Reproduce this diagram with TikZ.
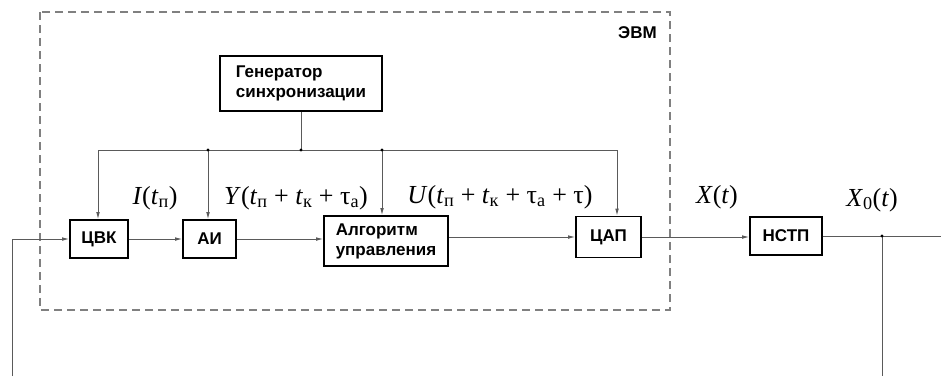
\documentclass[tikz,border=0pt]{standalone}
\usepackage{fontspec}
\setmainfont{Liberation Serif}
\newfontfamily\boxfont{Liberation Sans}
\usetikzlibrary{arrows.meta}
\definecolor{wire}{HTML}{5A5A5A}
\definecolor{dashc}{HTML}{808080}
\tikzset{
  blk/.style={draw=black, line width=1.6pt, fill=white, inner sep=0pt,
    font=\boxfont\bfseries\fontsize{17}{20}\selectfont, align=left},
  conn/.style={draw=wire, line width=0.9pt},
  arr/.style={conn, -{Latex[length=7pt,width=3.6pt]}},
  dot/.style={circle, fill=black, inner sep=0pt, minimum size=3.2pt},
  sig/.style={font=\fontsize{26}{30}\selectfont, inner sep=0pt},
}
\begin{document}
\begin{tikzpicture}[x=1pt,y=-1pt]
\useasboundingbox (0,0) rectangle (941,376);
% dashed computer boundary
\draw[dashc, line width=1.4pt, dash pattern=on 8pt off 5pt] (40,12) rectangle (670,310);
\node[font=\boxfont\bfseries\fontsize{17}{20}\selectfont, inner sep=0pt] (evm) at (637.5,33) {ЭВМ};

% blocks
\node[blk, minimum width=162pt, minimum height=55pt] (gen) at (301,83.5) {Генератор\\синхронизации};
\node[blk, minimum width=58pt, minimum height=38pt] (cvk) at (99,239) {ЦВК};
\node[blk, minimum width=53pt, minimum height=38pt] (ai) at (209.5,239) {АИ};
\node[blk, minimum width=124pt, minimum height=50pt] (alg) at (386,241) {Алгоритм\\управления};
\node[blk, minimum width=65pt, minimum height=41pt] (cap) at (608.5,237) {ЦАП};
\node[blk, minimum width=72pt, minimum height=38pt] (nstp) at (786,236) {НСТП};

% clock bus
\coordinate (busL) at (98,150);
\coordinate (j1) at (208,150);
\coordinate (j2) at (301,150);
\coordinate (j3) at (382,150);
\coordinate (busR) at (617,150);
\draw[conn] (gen.south) -- (j2);
\draw[conn] (busL) -- (busR);
\draw[arr] (busL) -- (busL |- cvk.north);
\draw[arr] (j1) -- (j1 |- ai.north);
\draw[arr] (j3) -- (j3 |- alg.north);
\draw[arr] (busR) -- (busR |- cap.north);
\node[dot] (d1) at (j1) {};
\node[dot] (d2) at (j2) {};
\node[dot] (d3) at (j3) {};

% signal chain
\coordinate (sL) at (12,239);
\coordinate (fbL) at (12,376);
\draw[arr] (fbL) -- (sL) -- (cvk.west);
\draw[arr] (cvk.east) -- (ai.west);
\draw[arr] (ai.east) -- (ai.east -| alg.west);
\draw[arr] (cap.west -| alg.east) -- (cap.west);
\draw[arr] (cap.east) -- (cap.east -| nstp.west);
\coordinate (jn) at (882,236);
\coordinate (out) at (941,236);
\coordinate (fbR) at (882,376);
\draw[conn] (nstp.east) -- (out);
\draw[conn] (jn) -- (fbR);
\node[dot] (d4) at (jn) {};

% signal labels
\node[sig] (lI) at (155,198) {\textit{I}(\textit{t}\textsubscript{п})};
\node[sig] (lY) at (296,198) {\textit{Y}(\textit{t}\textsubscript{п} + \textit{t}\textsubscript{к} + τ\textsubscript{а})};
\node[sig] (lU) at (500,197) {\textit{U}(\textit{t}\textsubscript{п} + \textit{t}\textsubscript{к} + τ\textsubscript{а} + τ)};
\node[sig] (lX) at (717,197) {\textit{X}(\textit{t})};
\node[sig] (lX0) at (872,200) {\textit{X}\textsubscript{0}(\textit{t})};
\end{tikzpicture}
\end{document}
